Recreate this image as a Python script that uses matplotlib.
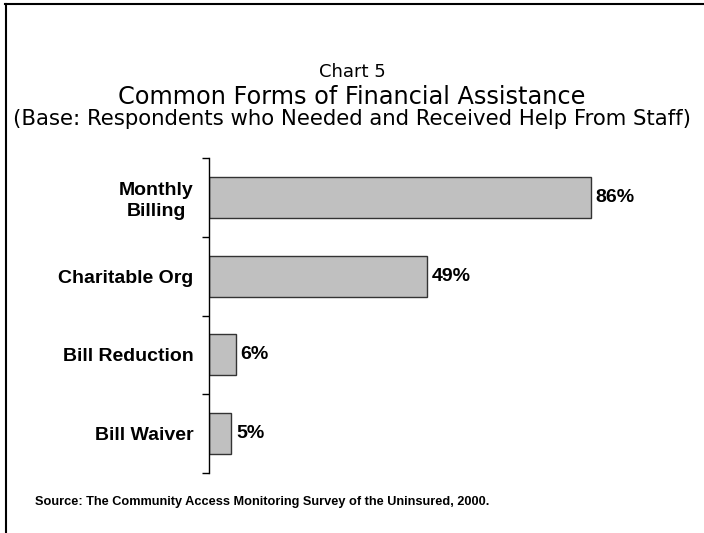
import matplotlib
matplotlib.use("Agg")
import matplotlib.pyplot as plt
from matplotlib.lines import Line2D

categories = ["Monthly\nBilling", "Charitable Org", "Bill Reduction", "Bill Waiver"]
values = [86, 49, 6, 5]
value_labels = ["86%", "49%", "6%", "5%"]

W, H = 704, 533
fig = plt.figure(figsize=(W / 100, H / 100), dpi=100)

# frame: only left and top edges show in the original
fig.lines.append(Line2D([5.5 / W, 5.5 / W], [0, 1 - 3.5 / H], transform=fig.transFigure,
                        color="black", linewidth=1.5))
fig.lines.append(Line2D([5 / W, 1], [1 - 3.5 / H, 1 - 3.5 / H], transform=fig.transFigure,
                        color="black", linewidth=1.5))

ax = fig.add_axes([209 / W, 1 - 473 / H, 4.44 * 100 / W, (473 - 158) / H])
pos = list(range(len(categories)))
ax.barh(pos, values, height=0.52, color="#c0c0c0", edgecolor="#333333", linewidth=1)
ax.set_ylim(len(categories) - 0.5, -0.5)
ax.set_xlim(0, 100)

for p, v, lab in zip(pos, values, value_labels):
    ax.text(v + 1.1, p, lab, va="center", ha="left", fontsize=14, fontweight="bold",
            family="Liberation Sans")

ax.set_yticks(pos)
ax.set_yticklabels(categories, fontsize=14, fontweight="bold", family="Liberation Sans",
                   ha="right", multialignment="center", linespacing=1.3)
ax.tick_params(axis="y", length=0, pad=11)
ax.set_yticks([-0.5, 0.5, 1.5, 2.5, 3.5], minor=True)
ax.tick_params(axis="y", which="minor", length=5, direction="out", width=1)
ax.set_xticks([])
for s in ["top", "right", "bottom"]:
    ax.spines[s].set_visible(False)
ax.spines["left"].set_linewidth(1)

fig.text(352 / W, 1 - 72 / H, "Chart 5", ha="center", va="center", fontsize=13, family="DejaVu Sans")
fig.text(352 / W, 1 - 97 / H, "Common Forms of Financial Assistance", ha="center", va="center",
         fontsize=17.3, family="DejaVu Sans")
fig.text(352 / W, 1 - 119 / H, "(Base: Respondents who Needed and Received Help From Staff)",
         ha="center", va="center", fontsize=15.3, family="DejaVu Sans")
fig.text(35 / W, 1 - 502 / H, "Source: The Community Access Monitoring Survey of the Uninsured, 2000.",
         ha="left", va="center", fontsize=9.2, fontweight="bold", family="Liberation Sans")

fig.savefig("out.png", dpi=100)
